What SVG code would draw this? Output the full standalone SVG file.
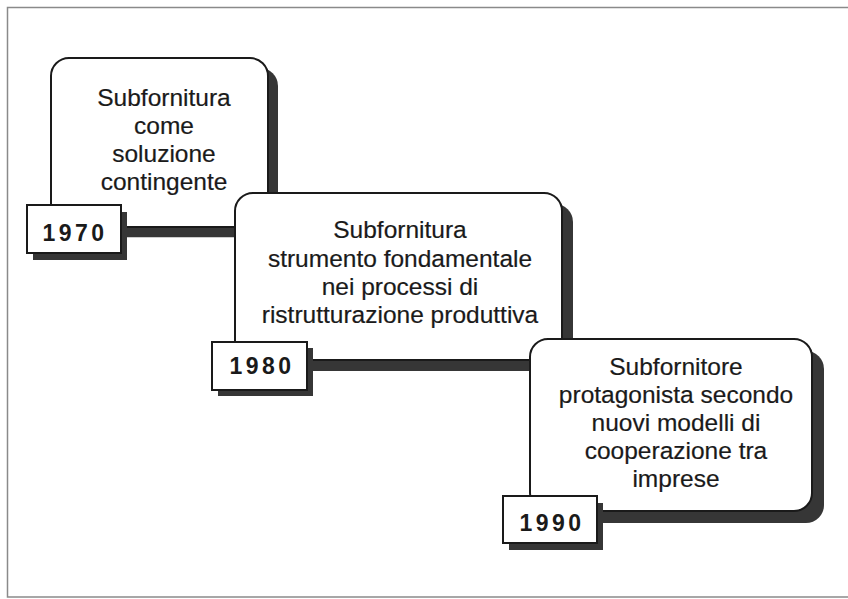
<svg xmlns="http://www.w3.org/2000/svg" width="848" height="599" viewBox="0 0 848 599">
<style>
  .frame{fill:none;stroke:#8a8a8a;stroke-width:1.5}
  .box{fill:#ffffff;stroke:#1a1a1a;stroke-width:2}
  .shadow{fill:#363636}
  .bar{stroke:#363636;stroke-width:10.5;fill:none}
  .txt{font-family:"Liberation Sans",Arial,sans-serif;font-size:24.5px;fill:#1a1a1a;stroke:#1a1a1a;stroke-width:0.2;text-anchor:middle}
  .year{font-family:"Liberation Sans",Arial,sans-serif;font-size:23px;font-weight:bold;fill:#1a1a1a;letter-spacing:3.5px;text-anchor:middle}
</style>
<rect width="848" height="599" fill="#ffffff"/>
<path class="frame" d="M849 7.5 H7.5 V597 H849"/>
<g id="connectors">
  <line class="bar" x1="121" y1="232" x2="236" y2="232"/>
  <line class="bar" x1="307" y1="365.5" x2="531" y2="365.5"/>
</g>
<g id="node-1970">
  <rect class="shadow" x="61" y="68" width="217" height="169" rx="18"/>
  <rect class="box" x="51" y="58" width="217" height="169" rx="18"/>
  <text class="txt" x="164" y="106">Subfornitura</text>
  <text class="txt" x="164" y="134">come</text>
  <text class="txt" x="164" y="162">soluzione</text>
  <text class="txt" x="164" y="190">contingente</text>
  <rect class="shadow" x="33" y="212" width="94" height="48"/>
  <rect class="box" x="27" y="205" width="94" height="48"/>
  <text class="year" x="75" y="241">1970</text>
</g>
<g id="node-1980">
  <rect class="shadow" x="246" y="204" width="327" height="167" rx="18"/>
  <rect class="box" x="235" y="193" width="327" height="167" rx="18"/>
  <text class="txt" x="400" y="238">Subfornitura</text>
  <text class="txt" x="400" y="267">strumento fondamentale</text>
  <text class="txt" x="400" y="295">nei processi di</text>
  <text class="txt" x="400" y="323">ristrutturazione produttiva</text>
  <rect class="shadow" x="218" y="348" width="95" height="48"/>
  <rect class="box" x="212" y="342" width="95" height="48"/>
  <text class="year" x="262" y="374">1980</text>
</g>
<g id="node-1990">
  <rect class="shadow" x="542" y="351" width="282" height="172" rx="18"/>
  <rect class="box" x="530" y="339" width="282" height="172" rx="18"/>
  <text class="txt" x="676" y="375">Subfornitore</text>
  <text class="txt" x="676" y="403">protagonista secondo</text>
  <text class="txt" x="676" y="431">nuovi modelli di</text>
  <text class="txt" x="676" y="459">cooperazione tra</text>
  <text class="txt" x="676" y="487">imprese</text>
  <rect class="shadow" x="509" y="503" width="94" height="47"/>
  <rect class="box" x="503" y="496" width="94" height="47"/>
  <text class="year" x="552" y="531">1990</text>
</g>
</svg>
